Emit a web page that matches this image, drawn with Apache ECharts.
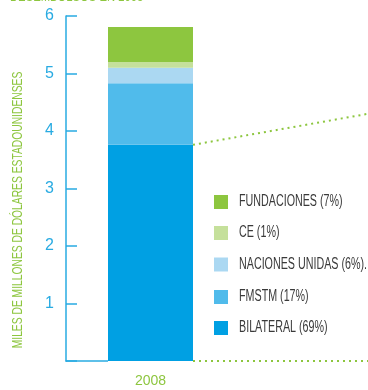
<!DOCTYPE html>
<html><head><meta charset="utf-8">
<script src="https://cdn.jsdelivr.net/npm/echarts@6/dist/echarts.min.js"></script>
<style>html,body{margin:0;padding:0;background:#fff}#c{width:368px;height:390px}</style>
</head><body><div id="c"></div>
<script>
var categories = ['2008'];
var seriesNames = ['BILATERAL (69%)', 'FMSTM (17%)', 'NACIONES UNIDAS (6%).', 'CE (1%)', 'FUNDACIONES (7%)'];
var bilateral = [3.76];
var fmstm = [1.07];
var nacionesUnidas = [0.27];
var ce = [0.10];
var fundaciones = [0.61];
var yTicks = [0, 1, 2, 3, 4, 5, 6];
var yAxisTitle = 'MILES DE MILLONES DE DÓLARES ESTADOUNIDENSES';
var topTitle = 'DESEMBOLSOS EN 2008';

var colors = ['#00a0e3', '#50bbeb', '#abd8f2', '#c5e09b', '#8dc63f'];
var values = [bilateral, fmstm, nacionesUnidas, ce, fundaciones];
var FONT = '"Liberation Sans", Arial, sans-serif';

var chart = echarts.init(document.getElementById('c'));
var series = seriesNames.map(function (n, i) {
  return { name: n, type: 'bar', stack: 'total', data: values[i], barWidth: 85,
    itemStyle: { color: colors[i] } };
});
chart.setOption({
  animation: false,
  grid: { left: 66, right: 133, top: 16, bottom: 29 },
  xAxis: {
    type: 'category', data: categories,
    axisLine: { show: false }, axisTick: { show: false },
    axisLabel: { color: '#8dc63f', fontSize: 14, fontFamily: FONT, margin: 13 }
  },
  yAxis: {
    type: 'value', min: yTicks[0], max: yTicks[yTicks.length - 1], interval: 1,
    splitLine: { show: false },
    axisLine: { show: true, lineStyle: { color: '#29abe2', width: 1.5 } },
    axisTick: { show: true, inside: true, length: 11, lineStyle: { color: '#29abe2', width: 1.5 } },
    axisLabel: { color: '#29abe2', fontSize: 16, fontFamily: FONT, margin: 12,
      formatter: function (v) { return v === 0 ? '' : String(v); } }
  },
  series: series
});

var p0 = chart.convertToPixel({ gridIndex: 0 }, [0, 0]);
var pB = chart.convertToPixel({ gridIndex: 0 }, [0, bilateral[0]]);
var half = 42.5;
var gridLeft = 66;
var graphics = [
  { type: 'line', z: 1, shape: { x1: gridLeft - 0.5, y1: p0[1], x2: p0[0] - half, y2: p0[1] },
    style: { stroke: '#29abe2', lineWidth: 1.5 } },
  { type: 'line', z: 5, shape: { x1: p0[0] + half, y1: p0[1], x2: 368, y2: p0[1] },
    style: { stroke: '#8dc63f', lineWidth: 2, lineDash: [2, 4] } },
  { type: 'line', z: 5, shape: { x1: pB[0] + half, y1: pB[1], x2: 368, y2: pB[1] - 31 },
    style: { stroke: '#8dc63f', lineWidth: 2, lineDash: [2, 4] } },
  { type: 'text', x: 10, y: 4, scaleX: 0.75,
    style: { text: topTitle, fill: '#8dc63f', fontSize: 15, fontFamily: FONT,
      textAlign: 'left', textVerticalAlign: 'bottom' } },
  { type: 'text', x: 18, y: 210, rotation: Math.PI / 2, scaleX: 0.735,
    style: { text: yAxisTitle, fill: '#8dc63f', fontSize: 14, fontFamily: FONT,
      textAlign: 'center', textVerticalAlign: 'middle' } }
];
// legend built from series (top to bottom: reversed stack order)
var rowY = [202, 233, 264.5, 297, 328];
for (var k = 0; k < seriesNames.length; k++) {
  var idx = seriesNames.length - 1 - k;
  graphics.push({ type: 'rect', shape: { x: 214, y: rowY[k] - 7, width: 14, height: 14 },
    style: { fill: colors[idx] } });
  graphics.push({ type: 'text', x: 239, y: rowY[k], scaleX: 0.67,
    style: { text: seriesNames[idx], fill: '#3a3a3a', fontSize: 16, fontFamily: FONT,
      textAlign: 'left', textVerticalAlign: 'middle' } });
}
chart.setOption({ graphic: graphics });
</script></body></html>
